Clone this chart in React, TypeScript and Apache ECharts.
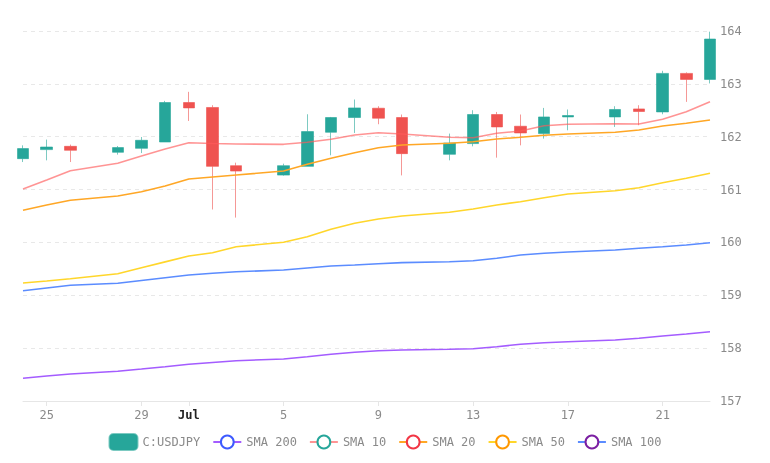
import React, { useEffect, useRef } from "react";
import * as echarts from "echarts";

const dates = [
  "2024-06-24", "2024-06-25", "2024-06-26", "2024-06-28", "2024-06-29", "2024-06-30",
  "2024-07-01", "2024-07-02", "2024-07-03", "2024-07-05", "2024-07-06", "2024-07-07",
  "2024-07-08", "2024-07-09", "2024-07-10", "2024-07-12", "2024-07-13", "2024-07-14",
  "2024-07-15", "2024-07-16", "2024-07-17", "2024-07-19", "2024-07-20", "2024-07-21",
  "2024-07-22", "2024-07-23",
];

const opens = [161.585, 161.756, 161.818, 161.705, 161.78, 161.9, 162.647, 162.553, 161.452, 161.274, 161.439, 162.084, 162.363, 162.539, 162.363, 161.667, 161.87, 162.42, 162.198, 162.059, 162.374, 162.374, 162.526, 162.469, 163.198, 163.084];
const closes = [161.775, 161.805, 161.743, 161.794, 161.932, 162.647, 162.545, 161.439, 161.35, 161.452, 162.097, 162.363, 162.545, 162.35, 161.68, 161.881, 162.42, 162.185, 162.071, 162.374, 162.401, 162.515, 162.477, 163.198, 163.084, 163.848];
const lows = [161.521, 161.553, 161.521, 161.661, 161.691, 161.9, 162.298, 160.623, 160.47, 161.263, 161.439, 161.648, 162.071, 162.236, 161.268, 161.553, 161.818, 161.604, 161.837, 161.964, 162.122, 162.185, 162.217, 162.425, 162.659, 163.008];
const highs = [161.837, 161.946, 161.851, 161.824, 161.995, 162.678, 162.849, 162.596, 161.509, 161.49, 162.425, 162.374, 162.704, 162.577, 162.42, 162.059, 162.501, 162.469, 162.42, 162.545, 162.515, 162.577, 162.596, 163.247, 163.217, 163.987];

const sma10 = [161.011, 161.181, 161.357, 161.497, 161.635, 161.768, 161.887, 161.872, 161.862, 161.856, 161.894, 161.951, 162.032, 162.076, 162.051, 161.989, 161.981, 162.065, 162.108, 162.208, 162.235, 162.246, 162.241, 162.329, 162.473, 162.662];
const sma20 = [160.608, 160.708, 160.797, 160.878, 160.96, 161.068, 161.2, 161.238, 161.276, 161.351, 161.478, 161.592, 161.698, 161.792, 161.843, 161.875, 161.906, 161.957, 161.989, 162.027, 162.051, 162.084, 162.127, 162.203, 162.254, 162.316];
const sma50 = [159.232, 159.27, 159.314, 159.408, 159.522, 159.632, 159.743, 159.806, 159.919, 160.002, 160.108, 160.248, 160.362, 160.443, 160.5, 160.57, 160.632, 160.708, 160.771, 160.846, 160.916, 160.979, 161.035, 161.13, 161.213, 161.308];
const sma100 = [159.087, 159.138, 159.189, 159.227, 159.28, 159.333, 159.384, 159.416, 159.446, 159.478, 159.516, 159.554, 159.573, 159.598, 159.617, 159.635, 159.654, 159.7, 159.762, 159.794, 159.819, 159.857, 159.889, 159.919, 159.951, 159.995];
const sma200 = [157.429, 157.473, 157.511, 157.562, 157.605, 157.649, 157.694, 157.728, 157.762, 157.795, 157.838, 157.883, 157.921, 157.952, 157.965, 157.978, 157.989, 158.027, 158.073, 158.103, 158.122, 158.154, 158.186, 158.23, 158.268, 158.311];

const monthNames = ["Jan", "Feb", "Mar", "Apr", "May", "Jun", "Jul", "Aug", "Sep", "Oct", "Nov", "Dec"];
const MONO = "DejaVu Sans Mono";

function toTs(s: string): number {
  const [y, m, d] = s.split("-").map(Number);
  return new Date(y, m - 1, d).getTime();
}

export default function App() {
  const ref = useRef<HTMLDivElement>(null);
  useEffect(() => {
    if (!ref.current) return;
    const chart = echarts.init(ref.current, undefined, { renderer: "svg" });
    const ts = dates.map(toTs);
    const candleData = ts.map((t, i) => [t, opens[i], closes[i], lows[i], highs[i]]);
    const line = (arr: number[]) => ts.map((t, i) => [t, arr[i]]);
    const lineSeries = (name: string, arr: number[], lineColor: string, itemColor: string, opacity = 1) => ({
      name,
      type: "line",
      data: line(arr),
      showSymbol: false,
      symbol: "emptyCircle",
      clip: false,
      itemStyle: { color: itemColor },
      lineStyle: { color: lineColor, width: 1.6, opacity },
      emphasis: { disabled: true },
    });
    chart.setOption({
      animation: false,
      grid: { left: 23, right: 60, top: 31, bottom: 62 },
      legend: {
        bottom: 7,
        left: "center",
        itemWidth: 28,
        itemHeight: 16,
        itemGap: 12,
        textStyle: { fontFamily: MONO, fontSize: 12, color: "#8a8a8a" },
        data: ["C:USDJPY", "SMA 200", "SMA 10", "SMA 20", "SMA 50", "SMA 100"],
      },
      xAxis: {
        type: "time",
        min: ts[0],
        max: ts[ts.length - 1],
        splitLine: { show: false },
        axisLine: { lineStyle: { color: "#e6e6e6" } },
        axisTick: { show: true, length: 5, lineStyle: { color: "#e6e6e6" } },
        axisLabel: {
          fontFamily: MONO,
          fontSize: 12,
          color: "#8a8a8a",
          margin: 8,
          formatter: (v: number) => {
            const d = new Date(v);
            if (d.getDate() === 1) return "{b|" + monthNames[d.getMonth()] + "}";
            return String(d.getDate());
          },
          rich: { b: { fontFamily: MONO, fontSize: 12, fontWeight: "bold", color: "#222" } },
        },
      },
      yAxis: {
        type: "value",
        position: "right",
        min: 157,
        max: 164,
        interval: 1,
        scale: true,
        axisLine: { show: false },
        axisTick: { show: false },
        splitLine: { lineStyle: { color: "#e8e8e8", type: [4, 4] } },
        axisLabel: { fontFamily: MONO, fontSize: 12, color: "#8a8a8a", margin: 10 },
      },
      series: [
        {
          name: "C:USDJPY",
          type: "candlestick",
          data: candleData,
          encode: { x: 0, y: [1, 2, 3, 4] },
          barWidth: 12,
          clip: false,
          itemStyle: {
            color: "#26a69a",
            color0: "#ef5350",
            borderColor: "rgba(38,166,154,0.6)",
            borderColor0: "rgba(239,83,80,0.6)",
            borderWidth: 1,
          },
        },
        lineSeries("SMA 200", sma200, "#a45cff", "#3d5afe"),
        lineSeries("SMA 10", sma10, "#ff5a5a", "#26a69a", 0.65),
        lineSeries("SMA 20", sma20, "#ffa726", "#f23645"),
        lineSeries("SMA 50", sma50, "#ffd62b", "#ff9800"),
        lineSeries("SMA 100", sma100, "#5b8cff", "#7b1fa2"),
      ],
    });
    return () => chart.dispose();
  }, []);
  return <div ref={ref} style={{ position: "fixed", left: 0, top: 0, width: 770, height: 463 }} />;
}
